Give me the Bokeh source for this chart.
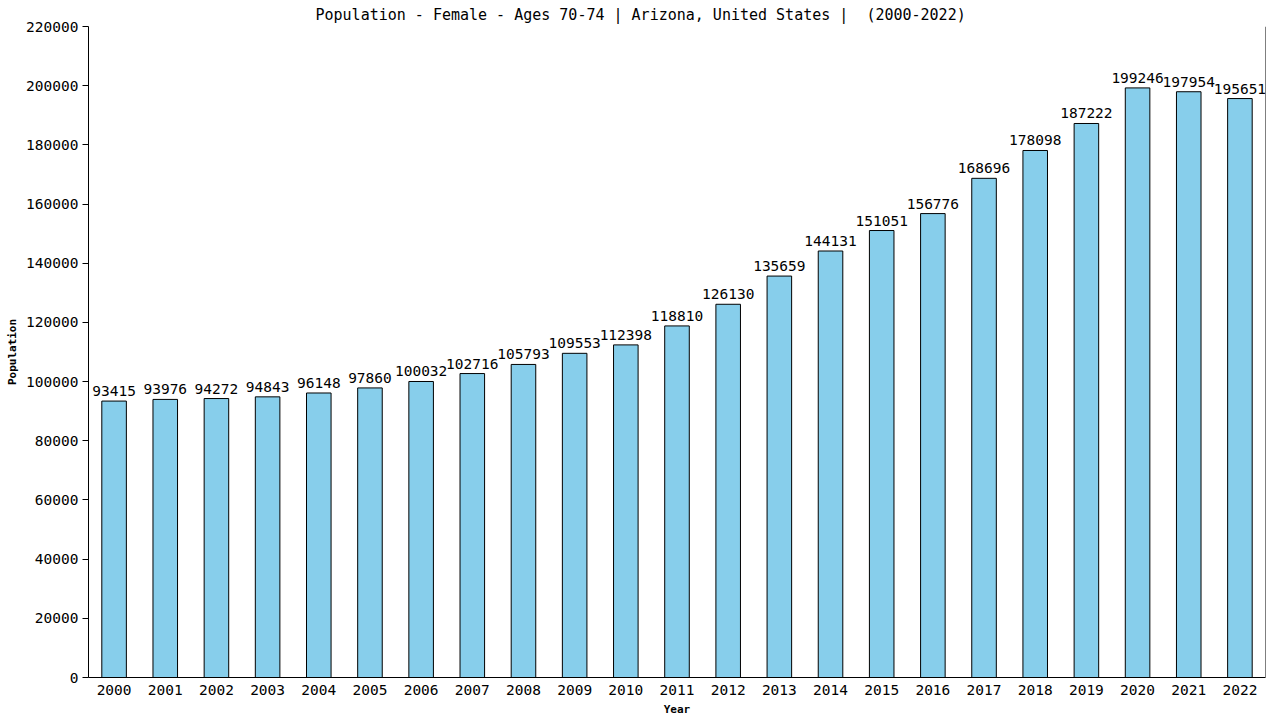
from bokeh.plotting import figure
from bokeh.models import ColumnDataSource, FactorRange, Range1d, Span, SingleIntervalTicker, BasicTickFormatter
from bokeh.core.properties import value
from bokeh.embed import file_html
from bokeh.resources import INLINE

years = [str(y) for y in range(2000, 2023)]
population = [93415, 93976, 94272, 94843, 96148, 97860, 100032, 102716, 105793, 109553,
              112398, 118810, 126130, 135659, 144131, 151051, 156776, 168696, 178098,
              187222, 199246, 197954, 195651]

FONT = "DejaVu Sans Mono"

src = ColumnDataSource(dict(year=years, pop=population, label=[str(v) for v in population]))

p = figure(width=1280, height=720, x_range=FactorRange(factors=years, range_padding=0),
           y_range=Range1d(0, 220000), output_backend="svg", toolbar_location=None,
           min_border_left=88, min_border_right=15, min_border_bottom=43, min_border_top=25)

# keep the double space of the original title
p.title.text = "Population - Female - Ages 70-74 | Arizona, United States |\u00a0 (2000-2022)"
p.title.text_font = FONT
p.title.text_font_size = "15px"
p.title.text_font_style = "normal"
p.title.text_color = "black"
p.title.align = "left"
p.title.offset = 227
p.title.standoff = 6

p.vbar(x="year", top="pop", width=0.48, source=src, fill_color="#87CEEB",
       line_color="black", line_width=1)
p.text(x="year", y="pop", text="label", source=src, text_align="center",
       text_baseline="bottom", y_offset=-5, text_font=value(FONT),
       text_font_size="14.5px", text_color="black")

p.xgrid.visible = False
p.ygrid.visible = False
p.outline_line_color = None

xa = p.xaxis[0]
xa.axis_label = "Year"
xa.axis_line_color = "black"
xa.major_tick_line_color = None
xa.minor_tick_line_color = None
xa.major_label_text_font = FONT
xa.major_label_text_font_size = "14.5px"
xa.major_label_text_color = "black"
xa.axis_label_text_font = FONT
xa.axis_label_text_font_size = "11px"
xa.axis_label_text_font_style = "bold"
xa.axis_label_text_color = "black"
xa.axis_label_standoff = 5
xa.major_label_standoff = 1

ya = p.yaxis[0]
ya.axis_label = "Population"
ya.ticker = SingleIntervalTicker(interval=20000)
ya.formatter = BasicTickFormatter(use_scientific=False)
ya.axis_line_color = "black"
ya.major_tick_line_color = "black"
ya.major_tick_in = 0
ya.major_tick_out = 6
ya.minor_tick_line_color = None
ya.major_label_text_font = FONT
ya.major_label_text_font_size = "14.5px"
ya.major_label_text_color = "black"
ya.axis_label_text_font = FONT
ya.axis_label_text_font_size = "11px"
ya.axis_label_text_font_style = "bold"
ya.axis_label_text_color = "black"
ya.axis_label_standoff = 4
ya.major_label_standoff = 4

# right border line of the plot area
p.add_layout(Span(location=len(years), dimension="height", line_color="black", line_width=1))

open("out.html", "w").write(file_html(p, INLINE))
